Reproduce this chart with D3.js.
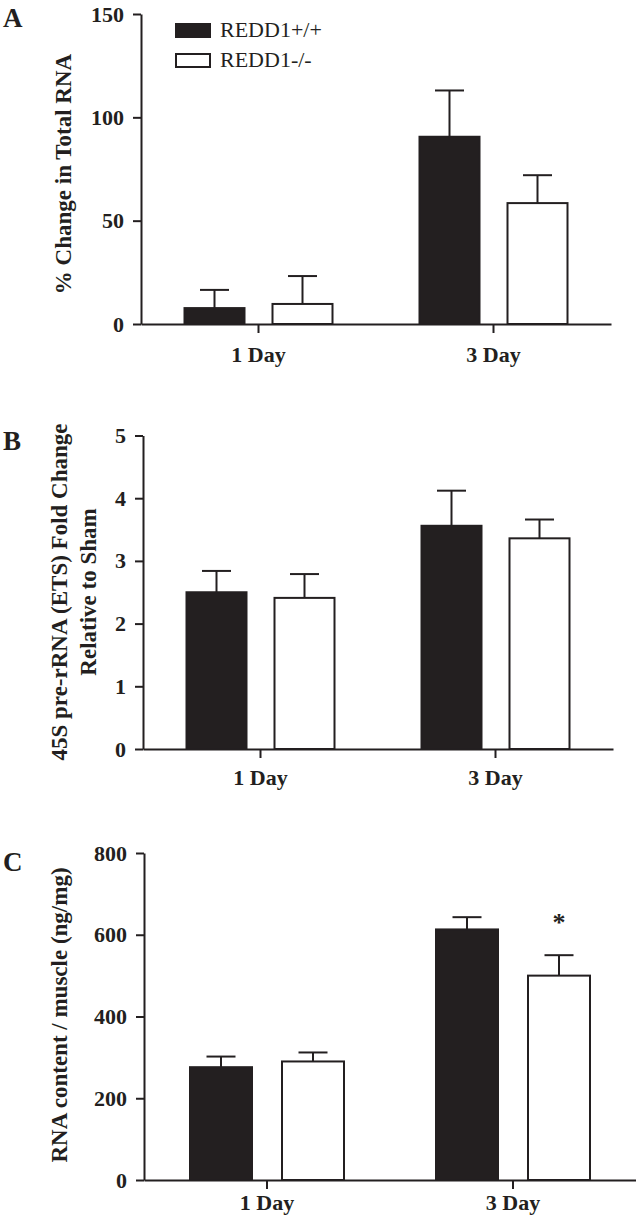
<!DOCTYPE html>
<html>
<head>
<meta charset="utf-8">
<script src="https://cdn.jsdelivr.net/npm/d3@7"></script>
<style>
  html, body { margin: 0; padding: 0; background: #fff; }
  svg { display: block; }
  text { font-family: "Liberation Serif", "Times New Roman", serif; fill: #231f20; }
</style>
</head>
<body>
<svg id="chart" width="636" height="1219"></svg>
<script>
// ---------------- DATA ----------------
const categories = ["1 Day", "3 Day"];
const series = ["REDD1+/+", "REDD1-/-"];

// Panel A: % Change in Total RNA
const totalRnaWT = [7.7, 90.6];
const totalRnaWTErr = [8.8, 22.4];
const totalRnaKO = [9.7, 58.5];
const totalRnaKOErr = [13.5, 13.5];
const ticksA = [0, 50, 100, 150];

// Panel B: 45S pre-rRNA (ETS) fold change
const preRnaWT = [2.50, 3.56];
const preRnaWTErr = [0.34, 0.56];
const preRnaKO = [2.41, 3.36];
const preRnaKOErr = [0.38, 0.30];
const ticksB = [0, 1, 2, 3, 4, 5];

// Panel C: RNA content / muscle (ng/mg)
const contentWT = [276, 613];
const contentWTErr = [26, 30];
const contentKO = [290, 500];
const contentKOErr = [22, 50];
const ticksC = [0, 200, 400, 600, 800];

// significance marks (panel C)
const starsC = [{ category: "3 Day", series: "REDD1-/-", text: "*" }];

// ---------------- DRAW ----------------
const ink = "#231f20";
const svg = d3.select("#chart");

function rows(wt, wtErr, ko, koErr) {
  const out = [];
  categories.forEach((c, i) => {
    out.push({ category: c, series: series[0], value: wt[i], err: wtErr[i] });
    out.push({ category: c, series: series[1], value: ko[i], err: koErr[i] });
  });
  return out;
}

function drawPanel(cfg) {
  const g = svg.append("g");
  const y = d3.scaleLinear().domain([0, d3.max(cfg.ticks)]).range([cfg.y0, cfg.yTop]);
  const x0 = d3.scaleBand().domain(categories).range([cfg.xLeft, cfg.xRight]).padding(0);
  const half = cfg.barW + cfg.gap / 2;
  const x1 = d3.scaleBand().domain(series)
    .range([x0.bandwidth() / 2 - half, x0.bandwidth() / 2 + half])
    .paddingInner(cfg.gap / (cfg.barW + cfg.gap)).paddingOuter(0);

  const data = rows(...cfg.data);

  // bars
  g.selectAll("rect.bar").data(data).join("rect")
    .attr("class", "bar")
    .attr("x", d => x0(d.category) + x1(d.series))
    .attr("width", x1.bandwidth())
    .attr("y", d => y(d.value))
    .attr("height", d => y(0) - y(d.value))
    .attr("fill", d => d.series === series[0] ? ink : "#fff")
    .attr("stroke", ink)
    .attr("stroke-width", 2);

  // error bars
  const cx = d => x0(d.category) + x1(d.series) + x1.bandwidth() / 2;
  g.selectAll("line.err").data(data).join("line")
    .attr("x1", cx).attr("x2", cx)
    .attr("y1", d => y(d.value)).attr("y2", d => y(d.value + d.err))
    .attr("stroke", ink).attr("stroke-width", 2);
  g.selectAll("line.cap").data(data).join("line")
    .attr("x1", d => cx(d) - 14.5).attr("x2", d => cx(d) + 14.5)
    .attr("y1", d => y(d.value + d.err)).attr("y2", d => y(d.value + d.err))
    .attr("stroke", ink).attr("stroke-width", 2);

  // y axis
  const ya = g.append("g").attr("transform", `translate(${cfg.xLeft},0)`)
    .call(d3.axisLeft(y).tickValues(cfg.ticks).tickSize(8).tickPadding(9).tickSizeOuter(0).tickFormat(d3.format("d")));
  ya.selectAll("path, line").attr("stroke", ink).attr("stroke-width", 2);
  ya.selectAll("text").attr("font-size", 22).attr("font-weight", "bold")
    .attr("font-family", "Liberation Serif, serif").attr("fill", ink);

  // x axis
  const xa = g.append("g").attr("transform", `translate(0,${cfg.y0})`)
    .call(d3.axisBottom(x0).tickSize(9).tickPadding(cfg.xPad).tickSizeOuter(0));
  xa.selectAll("path, line").attr("stroke", ink).attr("stroke-width", 2);
  xa.selectAll("text").attr("font-size", 22).attr("font-weight", "bold")
    .attr("font-family", "Liberation Serif, serif").attr("fill", ink);

  // y title
  cfg.title.forEach((t, i) => {
    g.append("text")
      .attr("transform", `translate(${cfg.titleX[i]},${cfg.titleY}) rotate(-90)`)
      .attr("text-anchor", "middle")
      .attr("font-size", 23).attr("font-weight", "bold")
      .text(t);
  });

  // panel letter
  g.append("text").attr("x", 3).attr("y", cfg.letterY)
    .attr("font-size", 27).attr("font-weight", "bold").text(cfg.letter);

  // stars
  (cfg.stars || []).forEach(s => {
    const d = data.find(r => r.category === s.category && r.series === s.series);
    g.append("text")
      .attr("x", cx(d)).attr("y", y(d.value + d.err) - 24)
      .attr("text-anchor", "middle").attr("font-size", 26).attr("font-weight", "bold")
      .text(s.text);
  });

  return g;
}

drawPanel({
  letter: "A", letterY: 27,
  data: [totalRnaWT, totalRnaWTErr, totalRnaKO, totalRnaKOErr],
  ticks: ticksA, y0: 324, yTop: 14, xLeft: 141, xRight: 611,
  barW: 60, gap: 28, xPad: 13,
  title: ["% Change in Total RNA"], titleX: [71], titleY: 174
});

drawPanel({
  letter: "B", letterY: 450,
  data: [preRnaWT, preRnaWTErr, preRnaKO, preRnaKOErr],
  ticks: ticksB, y0: 749, yTop: 435.5, xLeft: 143, xRight: 613,
  barW: 60, gap: 28, xPad: 11,
  title: ["45S pre-rRNA (ETS) Fold Change", "Relative to Sham"], titleX: [67, 96], titleY: 592
});

drawPanel({
  letter: "C", letterY: 871,
  data: [contentWT, contentWTErr, contentKO, contentKOErr],
  ticks: ticksC, y0: 1180, yTop: 853, xLeft: 144, xRight: 636,
  barW: 62, gap: 30, xPad: 5,
  title: ["RNA content / muscle (ng/mg)"], titleX: [67], titleY: 1015,
  stars: starsC
});

// legend (panel A)
const legend = svg.append("g");
series.forEach((s, i) => {
  legend.append("rect")
    .attr("x", 176).attr("y", 24 + i * 30).attr("width", 34).attr("height", 13)
    .attr("fill", i === 0 ? ink : "#fff").attr("stroke", ink).attr("stroke-width", 2);
  legend.append("text")
    .attr("x", 220).attr("y", 37 + i * 30)
    .attr("font-size", 22).text(s);
});
</script>
</body>
</html>
